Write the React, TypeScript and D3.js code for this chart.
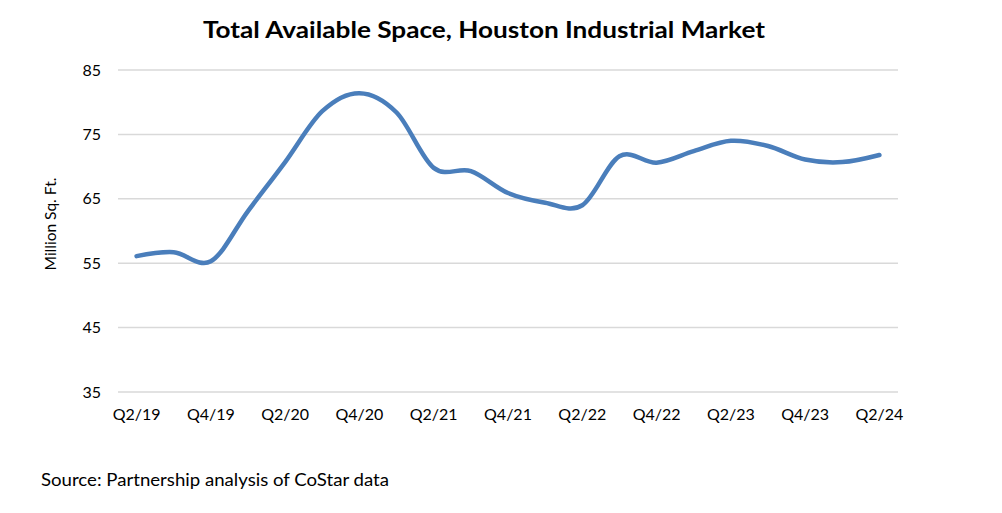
import React from "react";
import * as d3 from "d3";

const quarters = [
  "Q2/19", "Q3/19", "Q4/19", "Q1/20", "Q2/20", "Q3/20", "Q4/20", "Q1/21", "Q2/21", "Q3/21", "Q4/21",
  "Q1/22", "Q2/22", "Q3/22", "Q4/22", "Q1/23", "Q2/23", "Q3/23", "Q4/23", "Q1/24", "Q2/24",
];
const availableSpace = [
  56.1, 56.7, 55.3, 63.1, 70.7, 78.6, 81.4, 78.4, 69.8, 69.3, 65.9,
  64.4, 64.0, 71.6, 70.6, 72.4, 74.0, 73.2, 71.1, 70.7, 71.8,
];
const yTicks = [35, 45, 55, 65, 75, 85];
const xLabels = ["Q2/19", "Q4/19", "Q2/20", "Q4/20", "Q2/21", "Q4/21", "Q2/22", "Q4/22", "Q2/23", "Q4/23", "Q2/24"];

const W = 1002;
const H = 513;
const left = 118;
const right = 898;
const top = 70;
const bottom = 392;
const font = "Lato, 'Open Sans', sans-serif";

export default function App() {
  const x = d3.scaleBand<string>().domain(quarters).range([left, right]);
  const y = d3.scaleLinear().domain([35, 85]).range([bottom, top]);
  const cx = (q: string) => (x(q) as number) + x.bandwidth() / 2;
  const line = d3
    .line<number>()
    .x((_, i) => cx(quarters[i]))
    .y((d) => y(d))
    .curve(d3.curveCardinal.tension(0));
  return (
    <svg width={W} height={H} style={{ position: "absolute", left: 0, top: 0, background: "#fff" }}>
      <text x={484} y={38} textAnchor="middle" fontFamily={font} fontWeight="bold" fontSize={23} fill="#000" textLength={562} lengthAdjust="spacingAndGlyphs">
        Total Available Space, Houston Industrial Market
      </text>
      {yTicks.map((t) => (
        <g key={t}>
          <line x1={left} x2={right} y1={y(t)} y2={y(t)} stroke="#d9d9d9" strokeWidth={1.5} />
          <text x={101} y={y(t)} dy="0.35em" textAnchor="end" fontFamily={font} fontSize={16} fill="#000">
            {t}
          </text>
        </g>
      ))}
      {xLabels.map((q) => (
        <text key={q} x={cx(q)} y={420} textAnchor="middle" fontFamily={font} fontSize={16} fill="#000">
          {q}
        </text>
      ))}
      <text transform={`translate(56,224) rotate(-90)`} textAnchor="middle" fontFamily={font} fontSize={15.5} fill="#000">
        Million Sq. Ft.
      </text>
      <path d={line(availableSpace) || ""} fill="none" stroke="#4a7ebb" strokeWidth={4.5} strokeLinecap="round" strokeLinejoin="round" />
      <text x={41} y={486} fontFamily={font} fontSize={18} fill="#000" textLength={348} lengthAdjust="spacingAndGlyphs">
        Source: Partnership analysis of CoStar data
      </text>
    </svg>
  );
}
